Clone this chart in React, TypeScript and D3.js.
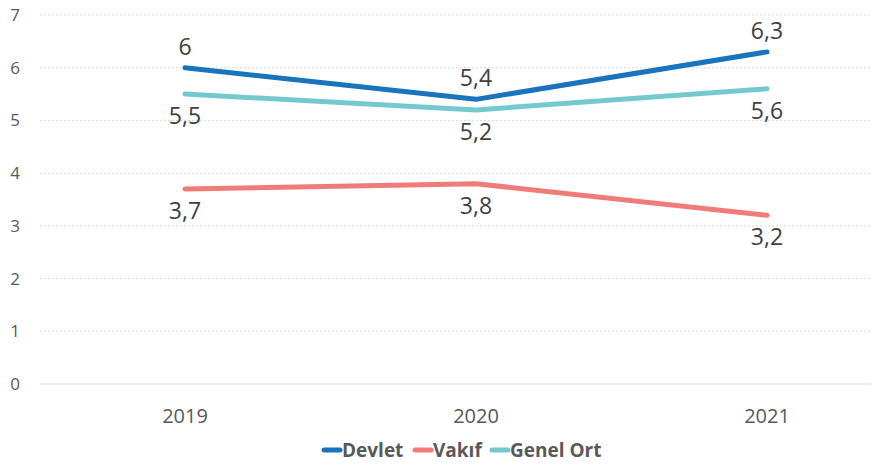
import React, { useEffect, useRef } from "react";
import * as d3 from "d3";

const years = ["2019", "2020", "2021"];
const devlet = [6, 5.4, 6.3];
const vakif = [3.7, 3.8, 3.2];
const genelOrt = [5.5, 5.2, 5.6];
const yTicks = [0, 1, 2, 3, 4, 5, 6, 7];

const series = [
  { name: "Devlet", values: devlet, color: "#1a73bd", labelPos: "above" },
  { name: "Vakıf", values: vakif, color: "#f07c7a", labelPos: "below" },
  { name: "Genel Ort", values: genelOrt, color: "#74c9cf", labelPos: "below" },
];

const App = () => {
  const ref = useRef<SVGSVGElement>(null);

  useEffect(() => {
    const svg = d3.select(ref.current);
    svg.selectAll("*").remove();

    const width = 871;
    const font = "'Open Sans', 'Liberation Sans', sans-serif";

    const x = d3.scalePoint<string>().domain(years).range([185, 767]);
    const y = d3.scaleLinear().domain([0, 7]).range([384, 15]);

    // gridlines
    svg.append("g")
      .selectAll("line")
      .data(yTicks)
      .enter()
      .append("line")
      .attr("x1", 40)
      .attr("x2", width)
      .attr("y1", d => y(d))
      .attr("y2", d => y(d))
      .attr("stroke", d => (d === 0 ? "#e6e6e6" : "#d9d9d9"))
      .attr("stroke-width", d => (d === 0 ? 1.5 : 1))
      .attr("stroke-dasharray", d => (d === 0 ? null : "2,2"));

    // y tick labels
    svg.append("g")
      .selectAll("text")
      .data(yTicks)
      .enter()
      .append("text")
      .attr("x", 15)
      .attr("y", d => y(d))
      .attr("dy", "0.35em")
      .attr("text-anchor", "middle")
      .attr("font-family", font)
      .attr("font-size", 17)
      .attr("fill", "#595959")
      .text(d => d);

    // x labels
    svg.append("g")
      .selectAll("text")
      .data(years)
      .enter()
      .append("text")
      .attr("x", d => x(d)!)
      .attr("y", 416)
      .attr("dy", "0.35em")
      .attr("text-anchor", "middle")
      .attr("font-family", font)
      .attr("font-size", 20)
      .attr("fill", "#595959")
      .text(d => d);

    const line = d3.line<number>()
      .x((_, i) => x(years[i])!)
      .y(d => y(d));

    series.forEach(s => {
      svg.append("path")
        .datum(s.values)
        .attr("d", line)
        .attr("fill", "none")
        .attr("stroke", s.color)
        .attr("stroke-width", 5)
        .attr("stroke-linecap", "round")
        .attr("stroke-linejoin", "round");

      svg.append("g")
        .selectAll("text")
        .data(s.values)
        .enter()
        .append("text")
        .attr("x", (_, i) => x(years[i])!)
        .attr("y", d => y(d) + (s.labelPos === "above" ? -21 : 22))
        .attr("dy", "0.35em")
        .attr("text-anchor", "middle")
        .attr("font-family", font)
        .attr("font-size", 23)
        .attr("fill", "#404040")
        .text(d => String(d).replace(".", ","));
    });

    // legend
    const legendX = [322, 413, 490];
    const legend = svg.append("g");
    series.forEach((s, i) => {
      legend.append("line")
        .attr("x1", legendX[i] + 2)
        .attr("x2", legendX[i] + 18)
        .attr("y1", 450)
        .attr("y2", 450)
        .attr("stroke", s.color)
        .attr("stroke-width", 5)
        .attr("stroke-linecap", "round");
      legend.append("text")
        .attr("x", legendX[i] + 20)
        .attr("y", 450)
        .attr("dy", "0.35em")
        .attr("font-family", font)
        .attr("font-size", 19)
        .attr("font-weight", "bold")
        .attr("fill", "#595959")
        .text(s.name);
    });
  }, []);

  return (
    <svg
      ref={ref}
      width={871}
      height={465}
      style={{ display: "block", position: "absolute", left: 0, top: 0, background: "#fff" }}
    ></svg>
  );
};

export default App;
